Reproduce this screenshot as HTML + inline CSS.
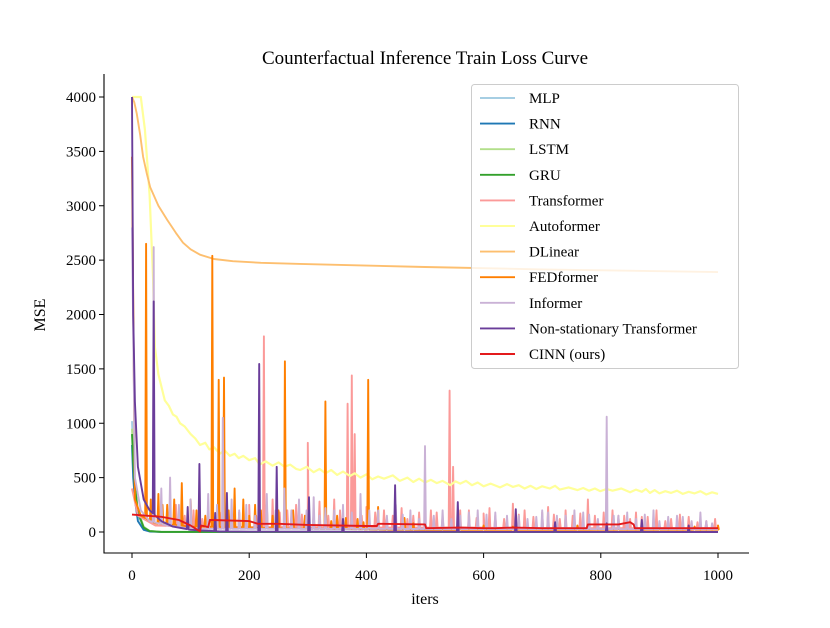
<!DOCTYPE html>
<html><head><meta charset="utf-8"><style>
body{margin:0;background:#fff}
svg text{font-family:"Liberation Serif","DejaVu Serif",serif;fill:#000}
</style></head><body>
<svg id="c" width="830" height="623" viewBox="0 0 830 623" xmlns="http://www.w3.org/2000/svg">
<rect width="830" height="623" fill="#fff"/>
<defs><clipPath id="pc"><rect x="104" y="74" width="645" height="479"/></clipPath></defs>
<text x="425" y="64" font-size="19" text-anchor="middle">Counterfactual Inference Train Loss Curve</text>
<text x="425" y="604" font-size="16" text-anchor="middle">iters</text>
<text transform="translate(45,315) rotate(-90)" font-size="16" text-anchor="middle">MSE</text>
<g id="series" clip-path="url(#pc)"></g>
<g id="axes"></g>
<g id="legend"></g>
</svg>
<script>
const xTicks=[0,200,400,600,800,1000];
const yTicks=[0,500,1000,1500,2000,2500,3000,3500,4000];
const seriesNames=["MLP","RNN","LSTM","GRU","Transformer","Autoformer","DLinear","FEDformer","Informer","Non-stationary Transformer","CINN (ours)"];
const seriesColors=["#a6cee3","#1f78b4","#b2df8a","#33a02c","#fb9a99","#ffff99","#fdbf6f","#ff7f00","#cab2d6","#6a3d9a","#e31a1c"];

const mlpIters=[0,2,5,10,20,30,50,1000];
const mlpVals=[1020,700,400,150,40,10,2,0];
const rnnIters=[0,2,5,10,20,30,50,1000];
const rnnVals=[800,500,300,100,20,5,1,0];
const lstmIters=[0,2,5,10,20,30,50,1000];
const lstmVals=[950,700,450,200,50,10,2,0];
const gruIters=[0,2,5,10,20,30,50,1000];
const gruVals=[900,650,420,180,40,8,1,0];

const trIters=[0,10,40,100,200,300,400,500,600,700,800,900,1000];
const trVals=[400,150,60,50,45,45,40,40,40,35,35,35,35];
const trSpikeIters=[60,75,90,105,120,150,175,200,212,225,240,252,265,280,290,300,320,335,345,355,368,375,380,392,400,415,430,445,460,470,480,490,500,510,520,530,542,548,560,575,588,600,610,620,635,650,660,670,685,700,710,720,730,740,752,765,778,790,805,820,830,840,850,860,870,880,895,910,920,935,950,965,980,995];
const trSpikeVals=[180,250,150,200,120,180,200,250,150,1800,300,180,200,250,160,820,280,150,300,200,1180,1440,900,150,230,180,200,150,220,120,150,180,120,200,180,140,1300,600,200,200,130,170,220,150,120,260,160,200,140,180,230,160,120,200,150,170,300,150,180,200,150,150,120,180,140,140,200,100,120,160,140,90,100,120];

const autoIters=[0,15,22,30,36,39,45,56,63,70,76,82,90,100,108,116,125,132,140,150,158,167,175,182,190,200,210,218,228,240,250,260,270,280,287,298,310,320,330,340,350,360,372,380,390,400,410,420,430,445,457,470,480,490,500,510,520,530,543,552,560,570,580,590,600,612,628,640,650,660,670,680,690,700,713,722,730,745,760,770,780,790,799,810,820,835,850,860,870,877,884,892,900,910,920,930,940,950,960,970,980,990,1000];
const autoVals=[4000,4000,3700,3100,2320,1700,1450,1210,1160,1080,1060,1000,970,900,860,800,820,760,780,720,750,700,720,680,700,660,680,620,650,610,640,600,620,580,570,600,550,580,540,570,525,555,515,540,500,530,485,510,490,520,470,500,460,490,455,480,450,470,430,465,445,470,430,455,420,445,410,440,415,430,400,425,395,420,400,425,390,410,385,405,380,400,375,395,380,400,365,390,370,395,360,385,355,375,360,380,350,370,355,375,345,365,350];

const dlIters=[0,4,8,14,19,25,31,45,60,75,87,100,116,140,172,220,287,400,500,700,1000];
const dlVals=[4000,3950,3850,3650,3450,3300,3170,3000,2870,2750,2660,2600,2550,2510,2490,2475,2465,2450,2437,2415,2390];

const fedIters=[0,5,15,40,100,200,300,400,500,700,1000];
const fedVals=[3450,300,150,80,50,40,30,25,20,20,20];
const fedSpikeIters=[24,32,45,52,60,72,85,100,110,125,137,148,157,165,175,183,190,200,210,220,230,240,250,261,275,285,295,310,320,330,340,350,365,385,395,403,420,435,450,465,480,500,530,560,600,650,700,760,830,900,960,1000];
const fedSpikeVals=[2650,300,350,250,250,300,450,300,200,150,2540,1400,1420,200,400,180,300,150,250,200,250,150,200,1570,200,150,150,180,120,1200,100,150,130,120,90,1400,230,120,100,130,80,90,70,80,60,50,70,60,50,60,50,60];

const infIters=[0,5,15,30,60,100,1000];
const infVals=[2800,500,200,100,60,30,25];
const infSpikeIters=[37,50,65,80,100,115,130,145,155,170,183,195,210,230,245,260,272,285,298,310,320,330,345,360,375,390,405,420,435,450,462,475,490,500,515,530,545,560,575,590,605,620,640,660,675,690,700,710,725,740,755,770,780,795,810,822,830,845,860,875,890,900,915,930,940,955,970,980,990];
const infSpikeVals=[2620,400,500,250,300,200,350,250,1050,300,200,250,150,350,200,400,200,300,200,320,150,220,200,250,180,350,200,200,150,250,160,200,120,790,150,200,120,150,180,200,160,180,150,150,120,140,200,180,150,150,200,180,160,120,1060,150,150,180,120,160,200,100,140,150,140,100,180,100,80];

const nsIters=[0,2,5,10,20,30,50,70,100,150,200,1000];
const nsVals=[4000,2000,1200,600,300,200,100,50,20,5,3,0];
const nsSpikeIters=[37,95,115,142,162,217,247,302,360,449,556,655,722,810,870,950];
const nsSpikeVals=[2120,230,625,175,360,1545,600,320,120,430,275,210,90,80,110,60];

const cinnIters=[0,50,80,100,116,118,130,133,136,200,215,250,300,400,418,420,500,502,560,600,620,650,700,720,776,778,830,850,856,858,1000];
const cinnVals=[160,140,110,60,5,60,45,110,110,100,75,75,65,55,55,75,70,35,40,35,35,40,35,35,35,70,70,90,70,35,35];

const X0=132,X1=718,Y0=532,Y1=97;
const xs=v=>X0+(X1-X0)*v/1000;
const ys=v=>Y0+(Y1-Y0)*Math.min(v,4000)/4000;
function interp(it,vl,x){for(let i=1;i<it.length;i++){if(x<=it[i]){const t=(x-it[i-1])/(it[i]-it[i-1]);return vl[i-1]+t*(vl[i]-vl[i-1]);}}return vl[vl.length-1];}
function build(it,vl,si,sv){let pts=it.map((x,i)=>[x,vl[i]]);if(si){si.forEach((s,i)=>{pts.push([s-1.5,interp(it,vl,s-1.5)]);pts.push([s,sv[i]]);pts.push([s+1.5,interp(it,vl,s+1.5)]);});}pts.sort((a,b)=>a[0]-b[0]);return pts;}
const seriesData=[
 build(mlpIters,mlpVals),build(rnnIters,rnnVals),build(lstmIters,lstmVals),build(gruIters,gruVals),
 build(trIters,trVals,trSpikeIters,trSpikeVals),build(autoIters,autoVals),build(dlIters,dlVals),
 build(fedIters,fedVals,fedSpikeIters,fedSpikeVals),build(infIters,infVals,infSpikeIters,infSpikeVals),
 build(nsIters,nsVals,nsSpikeIters,nsSpikeVals),build(cinnIters,cinnVals)];
const NS="http://www.w3.org/2000/svg";
const sg=document.getElementById('series');
const slugs=["mlp","rnn","lstm","gru","transformer","autoformer","dlinear","fedformer","informer","ns-transformer","cinn"];
seriesData.forEach((pts,k)=>{
 const p=document.createElementNS(NS,'polyline');
 p.setAttribute('points',pts.map(q=>xs(q[0]).toFixed(1)+','+ys(q[1]).toFixed(1)).join(' '));
 p.setAttribute('fill','none');p.setAttribute('stroke',seriesColors[k]);p.setAttribute('stroke-width',k==5?'2.2':'1.9');p.setAttribute('stroke-linejoin','round');
 
 
 sg.appendChild(p);
});
const ax=document.getElementById('axes');
ax.innerHTML='<line x1="104" y1="74" x2="104" y2="553.5" stroke="#000" stroke-width="1.1"/><line x1="103.5" y1="553" x2="749" y2="553" stroke="#000" stroke-width="1.1"/>';
xTicks.forEach(t=>{
 const l=document.createElementNS(NS,'line');l.setAttribute('x1',xs(t));l.setAttribute('x2',xs(t));l.setAttribute('y1',553);l.setAttribute('y2',558);l.setAttribute('stroke','#000');
 
 
 ax.appendChild(l);
 const tx=document.createElementNS(NS,'text');tx.setAttribute('x',xs(t));tx.setAttribute('y',580);tx.setAttribute('font-size','15');tx.setAttribute('text-anchor','middle');tx.textContent=t;
 
 
 ax.appendChild(tx);
});
yTicks.forEach(t=>{
 const l=document.createElementNS(NS,'line');l.setAttribute('x1',99);l.setAttribute('x2',104);l.setAttribute('y1',ys(t));l.setAttribute('y2',ys(t));l.setAttribute('stroke','#000');
 
 
 ax.appendChild(l);
 const tx=document.createElementNS(NS,'text');tx.setAttribute('x',96);tx.setAttribute('y',ys(t)+5);tx.setAttribute('font-size','15');tx.setAttribute('text-anchor','end');tx.textContent=t;
 
 
 ax.appendChild(tx);
});
const lg=document.getElementById('legend');
lg.innerHTML='<rect x="471.5" y="84.5" width="267" height="284" rx="3" fill="#fff" fill-opacity="0.8" stroke="#ccc"/>';
seriesNames.forEach((n,k)=>{
 const y=98+k*25.6;
 const l=document.createElementNS(NS,'line');l.setAttribute('x1',480);l.setAttribute('x2',515);l.setAttribute('y1',y);l.setAttribute('y2',y);l.setAttribute('stroke',seriesColors[k]);l.setAttribute('stroke-width','1.9');
 
 
 lg.appendChild(l);
 const tx=document.createElementNS(NS,'text');tx.setAttribute('x',529);tx.setAttribute('y',y+5);tx.setAttribute('font-size','15');tx.textContent=n;
 
 
 lg.appendChild(tx);
});
</script>
</body></html>
